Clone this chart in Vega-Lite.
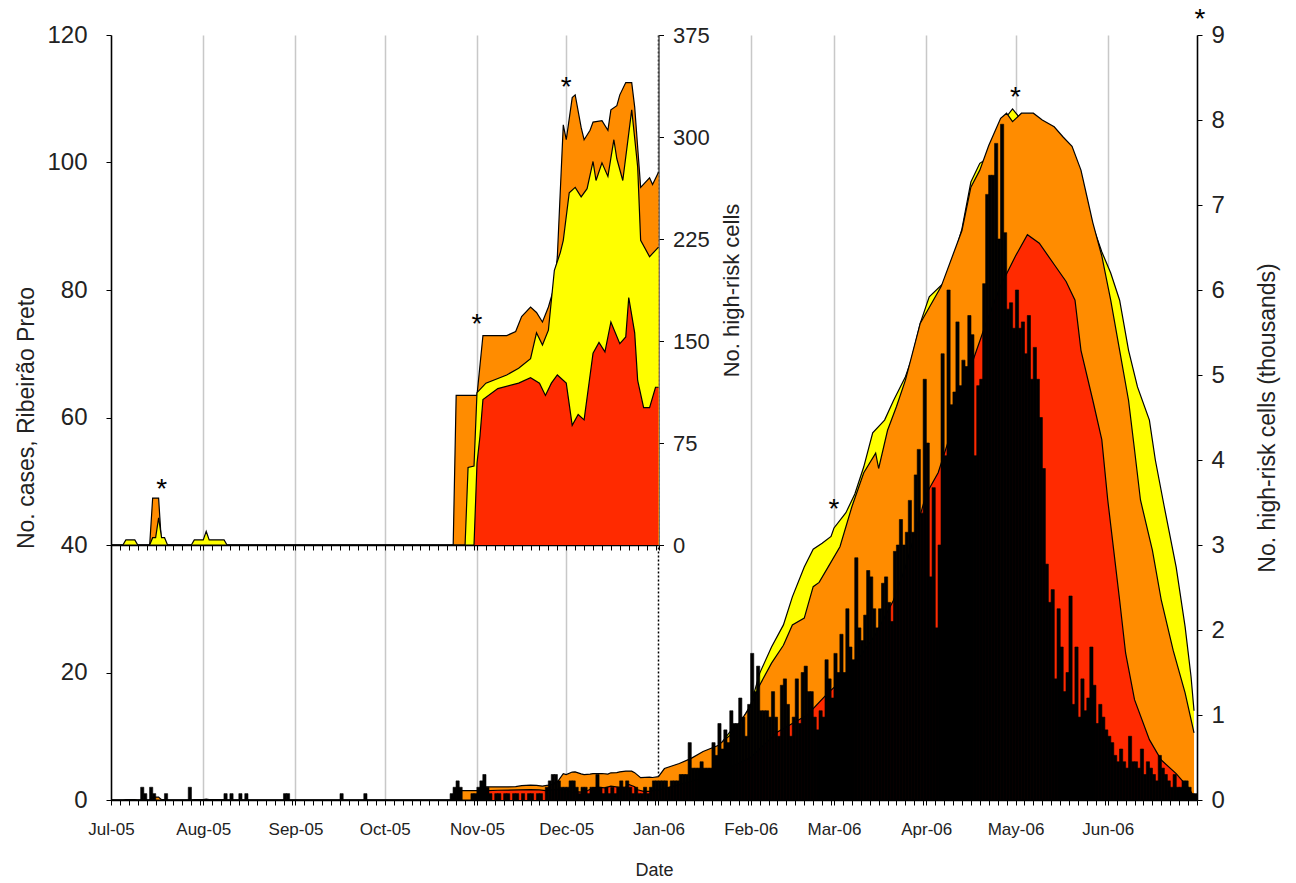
{
"$schema": "https://vega.github.io/schema/vega-lite/v6.json",
"width": 1086,
"height": 765,
"autosize": {"type": "none"},
"padding": {"left": 111, "top": 35, "right": 99, "bottom": 83},
"background": "white",
"config": {
  "font": "Liberation Sans",
  "view": {"stroke": null},
  "axis": {"domainColor": "black", "domainWidth": 1.5, "tickColor": "black", "tickWidth": 1, "tickSize": 5, "labelFont": "Liberation Sans", "labelFontSize": 24, "labelColor": "#222222", "titleFont": "Liberation Sans", "titleFontSize": 23, "titleFontWeight": "normal", "titleColor": "#222222", "grid": false}
},
"datasets": {
  "cases": [
    {"d":"2005-07-11","c":2},{"d":"2005-07-12","c":1},{"d":"2005-07-14","c":2},{"d":"2005-07-15","c":1},{"d":"2005-07-19","c":1},{"d":"2005-07-27","c":2},
    {"d":"2005-08-08","c":1},{"d":"2005-08-10","c":1},{"d":"2005-08-13","c":1},{"d":"2005-08-15","c":1},{"d":"2005-08-28","c":1},{"d":"2005-08-29","c":1},
    {"d":"2005-09-16","c":1},{"d":"2005-09-24","c":1},
    {"d":"2005-10-23","c":1},{"d":"2005-10-24","c":2},{"d":"2005-10-25","c":3},{"d":"2005-10-26","c":2},{"d":"2005-10-30","c":1},{"d":"2005-10-31","c":1},
    {"d":"2005-11-01","c":2},{"d":"2005-11-02","c":3},{"d":"2005-11-03","c":4},{"d":"2005-11-04","c":2},{"d":"2005-11-05","c":1},{"d":"2005-11-07","c":1},{"d":"2005-11-08","c":1},{"d":"2005-11-10","c":1},{"d":"2005-11-11","c":1},{"d":"2005-11-13","c":1},{"d":"2005-11-14","c":1},{"d":"2005-11-16","c":1},{"d":"2005-11-18","c":1},{"d":"2005-11-19","c":1},{"d":"2005-11-21","c":1},{"d":"2005-11-22","c":1},{"d":"2005-11-24","c":2},{"d":"2005-11-25","c":3},{"d":"2005-11-26","c":4},{"d":"2005-11-27","c":4},{"d":"2005-11-28","c":3},{"d":"2005-11-29","c":2},{"d":"2005-11-30","c":2},
    {"d":"2005-12-01","c":2},{"d":"2005-12-02","c":3},{"d":"2005-12-03","c":3},{"d":"2005-12-04","c":2},{"d":"2005-12-05","c":1},{"d":"2005-12-06","c":2},{"d":"2005-12-07","c":2},{"d":"2005-12-08","c":1},{"d":"2005-12-09","c":2},{"d":"2005-12-10","c":2},{"d":"2005-12-11","c":4},{"d":"2005-12-12","c":2},{"d":"2005-12-13","c":1},{"d":"2005-12-14","c":2},{"d":"2005-12-15","c":1},{"d":"2005-12-16","c":2},{"d":"2005-12-17","c":1},{"d":"2005-12-18","c":2},{"d":"2005-12-19","c":3},{"d":"2005-12-20","c":2},{"d":"2005-12-21","c":3},{"d":"2005-12-22","c":2},{"d":"2005-12-23","c":1},{"d":"2005-12-24","c":2},{"d":"2005-12-25","c":1},{"d":"2005-12-26","c":1},{"d":"2005-12-27","c":2},{"d":"2005-12-28","c":1},{"d":"2005-12-29","c":2},{"d":"2005-12-30","c":3},{"d":"2005-12-31","c":3},
    {"d":"2006-01-01","c":3},{"d":"2006-01-02","c":3},{"d":"2006-01-03","c":3},{"d":"2006-01-04","c":2},{"d":"2006-01-05","c":3},{"d":"2006-01-06","c":3},{"d":"2006-01-07","c":3},{"d":"2006-01-08","c":4},{"d":"2006-01-09","c":4},{"d":"2006-01-10","c":4},{"d":"2006-01-11","c":9},{"d":"2006-01-12","c":5},{"d":"2006-01-13","c":5},{"d":"2006-01-14","c":5},{"d":"2006-01-15","c":6},{"d":"2006-01-16","c":5},{"d":"2006-01-17","c":5},{"d":"2006-01-18","c":5},{"d":"2006-01-19","c":9},{"d":"2006-01-20","c":7},{"d":"2006-01-21","c":12},{"d":"2006-01-22","c":8},{"d":"2006-01-23","c":11},{"d":"2006-01-24","c":9},{"d":"2006-01-25","c":14},{"d":"2006-01-26","c":12},{"d":"2006-01-27","c":12},{"d":"2006-01-28","c":16},{"d":"2006-01-29","c":13},{"d":"2006-01-30","c":10},{"d":"2006-01-31","c":15},
    {"d":"2006-02-01","c":23},{"d":"2006-02-02","c":17},{"d":"2006-02-03","c":21},{"d":"2006-02-04","c":14},{"d":"2006-02-05","c":14},{"d":"2006-02-06","c":14},{"d":"2006-02-07","c":13},{"d":"2006-02-08","c":17},{"d":"2006-02-09","c":13},{"d":"2006-02-10","c":10},{"d":"2006-02-11","c":18},{"d":"2006-02-12","c":19},{"d":"2006-02-13","c":15},{"d":"2006-02-14","c":10},{"d":"2006-02-15","c":13},{"d":"2006-02-16","c":19},{"d":"2006-02-17","c":12},{"d":"2006-02-18","c":20},{"d":"2006-02-19","c":21},{"d":"2006-02-20","c":17},{"d":"2006-02-21","c":17},{"d":"2006-02-22","c":13},{"d":"2006-02-23","c":11},{"d":"2006-02-24","c":14},{"d":"2006-02-25","c":13},{"d":"2006-02-26","c":22},{"d":"2006-02-27","c":19},{"d":"2006-02-28","c":16},
    {"d":"2006-03-01","c":23},{"d":"2006-03-02","c":20},{"d":"2006-03-03","c":26},{"d":"2006-03-04","c":20},{"d":"2006-03-05","c":30},{"d":"2006-03-06","c":24},{"d":"2006-03-07","c":22},{"d":"2006-03-08","c":38},{"d":"2006-03-09","c":27},{"d":"2006-03-10","c":25},{"d":"2006-03-11","c":29},{"d":"2006-03-12","c":36},{"d":"2006-03-13","c":35},{"d":"2006-03-14","c":30},{"d":"2006-03-15","c":27},{"d":"2006-03-16","c":30},{"d":"2006-03-17","c":34},{"d":"2006-03-18","c":35},{"d":"2006-03-19","c":31},{"d":"2006-03-20","c":28},{"d":"2006-03-21","c":39},{"d":"2006-03-22","c":40},{"d":"2006-03-23","c":44},{"d":"2006-03-24","c":40},{"d":"2006-03-25","c":42},{"d":"2006-03-26","c":47},{"d":"2006-03-27","c":42},{"d":"2006-03-28","c":51},{"d":"2006-03-29","c":55},{"d":"2006-03-30","c":45},{"d":"2006-03-31","c":66},
    {"d":"2006-04-01","c":56},{"d":"2006-04-02","c":35},{"d":"2006-04-03","c":49},{"d":"2006-04-04","c":27},{"d":"2006-04-05","c":40},{"d":"2006-04-06","c":70},{"d":"2006-04-07","c":54},{"d":"2006-04-08","c":80},{"d":"2006-04-09","c":62},{"d":"2006-04-10","c":64},{"d":"2006-04-11","c":75},{"d":"2006-04-12","c":65},{"d":"2006-04-13","c":69},{"d":"2006-04-14","c":68},{"d":"2006-04-15","c":76},{"d":"2006-04-16","c":73},{"d":"2006-04-17","c":54},{"d":"2006-04-18","c":65},{"d":"2006-04-19","c":66},{"d":"2006-04-20","c":81},{"d":"2006-04-21","c":95},{"d":"2006-04-22","c":98},{"d":"2006-04-23","c":98},{"d":"2006-04-24","c":103},{"d":"2006-04-25","c":88},{"d":"2006-04-26","c":106},{"d":"2006-04-27","c":89},{"d":"2006-04-28","c":77},{"d":"2006-04-29","c":78},{"d":"2006-04-30","c":74},
    {"d":"2006-05-01","c":80},{"d":"2006-05-02","c":74},{"d":"2006-05-03","c":75},{"d":"2006-05-04","c":70},{"d":"2006-05-05","c":76},{"d":"2006-05-06","c":66},{"d":"2006-05-07","c":71},{"d":"2006-05-08","c":66},{"d":"2006-05-09","c":60},{"d":"2006-05-10","c":52},{"d":"2006-05-11","c":37},{"d":"2006-05-12","c":31},{"d":"2006-05-13","c":33},{"d":"2006-05-14","c":19},{"d":"2006-05-15","c":30},{"d":"2006-05-16","c":24},{"d":"2006-05-17","c":17},{"d":"2006-05-18","c":20},{"d":"2006-05-19","c":32},{"d":"2006-05-20","c":15},{"d":"2006-05-21","c":24},{"d":"2006-05-22","c":13},{"d":"2006-05-23","c":19},{"d":"2006-05-24","c":14},{"d":"2006-05-25","c":16},{"d":"2006-05-26","c":24},{"d":"2006-05-27","c":18},{"d":"2006-05-28","c":12},{"d":"2006-05-29","c":15},{"d":"2006-05-30","c":13},{"d":"2006-05-31","c":11},
    {"d":"2006-06-01","c":10},{"d":"2006-06-02","c":9},{"d":"2006-06-03","c":7},{"d":"2006-06-04","c":6},{"d":"2006-06-05","c":8},{"d":"2006-06-06","c":6},{"d":"2006-06-07","c":5},{"d":"2006-06-08","c":10},{"d":"2006-06-09","c":6},{"d":"2006-06-10","c":6},{"d":"2006-06-11","c":5},{"d":"2006-06-12","c":8},{"d":"2006-06-13","c":4},{"d":"2006-06-14","c":6},{"d":"2006-06-15","c":5},{"d":"2006-06-16","c":4},{"d":"2006-06-17","c":3},{"d":"2006-06-18","c":7},{"d":"2006-06-19","c":5},{"d":"2006-06-20","c":4},{"d":"2006-06-21","c":3},{"d":"2006-06-22","c":2},{"d":"2006-06-23","c":4},{"d":"2006-06-24","c":2},{"d":"2006-06-25","c":2},{"d":"2006-06-26","c":3},{"d":"2006-06-27","c":3},{"d":"2006-06-28","c":2},{"d":"2006-06-29","c":1},{"d":"2006-06-30","c":1}
  ],
  "risk": [
    {"d":"2005-07-01","s":"O","v":0},{"d":"2005-07-14","s":"O","v":0},{"d":"2005-07-15","s":"O","v":0.0345},{"d":"2005-07-17","s":"O","v":0.0345},{"d":"2005-07-18","s":"O","v":0},{"d":"2005-10-24","s":"O","v":0},{"d":"2005-10-25","s":"O","v":0.11},{"d":"2005-11-01","s":"O","v":0.11},{"d":"2005-11-03","s":"O","v":0.154},{"d":"2005-11-11","s":"O","v":0.154},{"d":"2005-11-14","s":"O","v":0.157},{"d":"2005-11-16","s":"O","v":0.168},{"d":"2005-11-19","s":"O","v":0.175},{"d":"2005-11-21","s":"O","v":0.171},{"d":"2005-11-23","s":"O","v":0.164},{"d":"2005-11-25","s":"O","v":0.175},{"d":"2005-11-27","s":"O","v":0.19},{"d":"2005-11-28","s":"O","v":0.212},{"d":"2005-11-30","s":"O","v":0.309},{"d":"2005-12-01","s":"O","v":0.298},{"d":"2005-12-03","s":"O","v":0.329},{"d":"2005-12-04","s":"O","v":0.331},{"d":"2005-12-06","s":"O","v":0.307},{"d":"2005-12-07","s":"O","v":0.298},{"d":"2005-12-09","s":"O","v":0.305},{"d":"2005-12-10","s":"O","v":0.311},{"d":"2005-12-13","s":"O","v":0.312},{"d":"2005-12-15","s":"O","v":0.305},{"d":"2005-12-16","s":"O","v":0.32},{"d":"2005-12-18","s":"O","v":0.323},{"d":"2005-12-19","s":"O","v":0.331},{"d":"2005-12-21","s":"O","v":0.34},{"d":"2005-12-23","s":"O","v":0.34},{"d":"2005-12-24","s":"O","v":0.322},{"d":"2005-12-26","s":"O","v":0.263},{"d":"2005-12-29","s":"O","v":0.27},{"d":"2005-12-30","s":"O","v":0.265},{"d":"2006-01-01","s":"O","v":0.274},
    {"d":"2006-01-03","s":"O","v":0.37},{"d":"2006-01-08","s":"O","v":0.43},{"d":"2006-01-12","s":"O","v":0.49},{"d":"2006-01-16","s":"O","v":0.57},{"d":"2006-01-21","s":"O","v":0.64},{"d":"2006-01-25","s":"O","v":0.76},{"d":"2006-01-28","s":"O","v":0.9},{"d":"2006-02-01","s":"O","v":1.1},{"d":"2006-02-04","s":"O","v":1.35},{"d":"2006-02-08","s":"O","v":1.61},{"d":"2006-02-12","s":"O","v":1.82},{"d":"2006-02-15","s":"O","v":2.06},{"d":"2006-02-19","s":"O","v":2.14},{"d":"2006-02-22","s":"O","v":2.51},{"d":"2006-02-24","s":"O","v":2.56},{"d":"2006-02-27","s":"O","v":2.74},{"d":"2006-03-03","s":"O","v":2.98},{"d":"2006-03-07","s":"O","v":3.45},{"d":"2006-03-11","s":"O","v":3.85},{"d":"2006-03-15","s":"O","v":4.08},{"d":"2006-03-16","s":"O","v":3.9},{"d":"2006-03-19","s":"O","v":4.35},{"d":"2006-03-22","s":"O","v":4.63},{"d":"2006-03-25","s":"O","v":4.94},{"d":"2006-03-30","s":"O","v":5.61},{"d":"2006-04-06","s":"O","v":6.04},{"d":"2006-04-13","s":"O","v":6.7},{"d":"2006-04-16","s":"O","v":7.21},{"d":"2006-04-19","s":"O","v":7.41},{"d":"2006-04-22","s":"O","v":7.7},{"d":"2006-04-26","s":"O","v":8.02},{"d":"2006-04-28","s":"O","v":8.08},{"d":"2006-04-30","s":"O","v":7.98},{"d":"2006-05-03","s":"O","v":8.08},{"d":"2006-05-07","s":"O","v":8.08},{"d":"2006-05-10","s":"O","v":8.0},{"d":"2006-05-14","s":"O","v":7.92},{"d":"2006-05-17","s":"O","v":7.8},{"d":"2006-05-20","s":"O","v":7.69},{"d":"2006-05-23","s":"O","v":7.41},{"d":"2006-05-25","s":"O","v":7.1},{"d":"2006-05-27","s":"O","v":6.79},{"d":"2006-05-30","s":"O","v":6.4},{"d":"2006-06-02","s":"O","v":5.88},{"d":"2006-06-05","s":"O","v":5.29},{"d":"2006-06-08","s":"O","v":4.7},{"d":"2006-06-10","s":"O","v":4.12},{"d":"2006-06-12","s":"O","v":3.53},{"d":"2006-06-16","s":"O","v":2.94},{"d":"2006-06-19","s":"O","v":2.35},{"d":"2006-06-23","s":"O","v":1.76},{"d":"2006-06-27","s":"O","v":1.26},{"d":"2006-06-30","s":"O","v":0.79},
    {"d":"2005-07-01","s":"Y","v":0},{"d":"2005-07-05","s":"Y","v":0},{"d":"2005-07-06","s":"Y","v":0.0037},{"d":"2005-07-09","s":"Y","v":0.0037},{"d":"2005-07-10","s":"Y","v":0},{"d":"2005-07-14","s":"Y","v":0},{"d":"2005-07-15","s":"Y","v":0.0054},{"d":"2005-07-16","s":"Y","v":0.0054},{"d":"2005-07-17","s":"Y","v":0.02},{"d":"2005-07-18","s":"Y","v":0.0054},{"d":"2005-07-19","s":"Y","v":0.0054},{"d":"2005-07-20","s":"Y","v":0},{"d":"2005-07-28","s":"Y","v":0},{"d":"2005-07-29","s":"Y","v":0.0037},{"d":"2005-08-01","s":"Y","v":0.0037},{"d":"2005-08-02","s":"Y","v":0.01},{"d":"2005-08-03","s":"Y","v":0.0037},{"d":"2005-08-08","s":"Y","v":0.0037},{"d":"2005-08-09","s":"Y","v":0},{"d":"2005-10-28","s":"Y","v":0},{"d":"2005-10-29","s":"Y","v":0.057},{"d":"2005-10-31","s":"Y","v":0.058},{"d":"2005-11-01","s":"Y","v":0.112},{"d":"2005-11-04","s":"Y","v":0.119},{"d":"2005-11-11","s":"Y","v":0.125},{"d":"2005-11-15","s":"Y","v":0.13},{"d":"2005-11-19","s":"Y","v":0.137},{"d":"2005-11-21","s":"Y","v":0.156},{"d":"2005-11-23","s":"Y","v":0.147},{"d":"2005-11-25","s":"Y","v":0.158},{"d":"2005-11-27","s":"Y","v":0.202},{"d":"2005-11-29","s":"Y","v":0.215},{"d":"2005-11-30","s":"Y","v":0.224},{"d":"2005-12-02","s":"Y","v":0.259},{"d":"2005-12-04","s":"Y","v":0.263},{"d":"2005-12-06","s":"Y","v":0.256},{"d":"2005-12-08","s":"Y","v":0.262},{"d":"2005-12-10","s":"Y","v":0.282},{"d":"2005-12-11","s":"Y","v":0.268},{"d":"2005-12-13","s":"Y","v":0.281},{"d":"2005-12-15","s":"Y","v":0.271},{"d":"2005-12-17","s":"Y","v":0.298},{"d":"2005-12-18","s":"Y","v":0.284},{"d":"2005-12-20","s":"Y","v":0.268},{"d":"2005-12-23","s":"Y","v":0.32},{"d":"2005-12-25","s":"Y","v":0.278},{"d":"2005-12-26","s":"Y","v":0.224},{"d":"2005-12-29","s":"Y","v":0.212},{"d":"2006-01-01","s":"Y","v":0.219},
    {"d":"2006-01-08","s":"Y","v":0.38},{"d":"2006-01-16","s":"Y","v":0.53},{"d":"2006-01-21","s":"Y","v":0.62},{"d":"2006-01-25","s":"Y","v":0.8},{"d":"2006-01-28","s":"Y","v":0.88},{"d":"2006-02-01","s":"Y","v":1.12},{"d":"2006-02-04","s":"Y","v":1.49},{"d":"2006-02-08","s":"Y","v":1.8},{"d":"2006-02-12","s":"Y","v":2.06},{"d":"2006-02-15","s":"Y","v":2.39},{"d":"2006-02-19","s":"Y","v":2.74},{"d":"2006-02-22","s":"Y","v":2.95},{"d":"2006-02-25","s":"Y","v":3.02},{"d":"2006-02-28","s":"Y","v":3.1},{"d":"2006-03-01","s":"Y","v":3.2},{"d":"2006-03-05","s":"Y","v":3.38},{"d":"2006-03-08","s":"Y","v":3.6},{"d":"2006-03-11","s":"Y","v":3.92},{"d":"2006-03-14","s":"Y","v":4.32},{"d":"2006-03-18","s":"Y","v":4.47},{"d":"2006-03-21","s":"Y","v":4.7},{"d":"2006-03-25","s":"Y","v":4.98},{"d":"2006-03-27","s":"Y","v":5.18},{"d":"2006-03-30","s":"Y","v":5.61},{"d":"2006-04-02","s":"Y","v":5.92},{"d":"2006-04-08","s":"Y","v":6.12},{"d":"2006-04-13","s":"Y","v":6.72},{"d":"2006-04-16","s":"Y","v":7.27},{"d":"2006-04-19","s":"Y","v":7.49},{"d":"2006-04-22","s":"Y","v":7.56},{"d":"2006-04-26","s":"Y","v":7.95},{"d":"2006-04-30","s":"Y","v":8.13},{"d":"2006-05-03","s":"Y","v":8.0},{"d":"2006-05-10","s":"Y","v":7.9},{"d":"2006-05-17","s":"Y","v":7.7},{"d":"2006-05-23","s":"Y","v":7.3},{"d":"2006-05-27","s":"Y","v":6.75},{"d":"2006-05-30","s":"Y","v":6.45},{"d":"2006-06-02","s":"Y","v":6.2},{"d":"2006-06-05","s":"Y","v":5.88},{"d":"2006-06-08","s":"Y","v":5.29},{"d":"2006-06-11","s":"Y","v":4.86},{"d":"2006-06-15","s":"Y","v":4.47},{"d":"2006-06-17","s":"Y","v":4.0},{"d":"2006-06-20","s":"Y","v":3.45},{"d":"2006-06-24","s":"Y","v":2.74},{"d":"2006-06-27","s":"Y","v":2.04},{"d":"2006-06-29","s":"Y","v":1.45},{"d":"2006-06-30","s":"Y","v":1.05},
    {"d":"2005-07-01","s":"R","v":0},{"d":"2005-10-31","s":"R","v":0},{"d":"2005-11-01","s":"R","v":0.06},{"d":"2005-11-02","s":"R","v":0.08},{"d":"2005-11-03","s":"R","v":0.107},{"d":"2005-11-08","s":"R","v":0.115},{"d":"2005-11-15","s":"R","v":0.119},{"d":"2005-11-19","s":"R","v":0.123},{"d":"2005-11-22","s":"R","v":0.119},{"d":"2005-11-24","s":"R","v":0.11},{"d":"2005-11-26","s":"R","v":0.119},{"d":"2005-11-28","s":"R","v":0.125},{"d":"2005-12-01","s":"R","v":0.119},{"d":"2005-12-03","s":"R","v":0.088},{"d":"2005-12-05","s":"R","v":0.096},{"d":"2005-12-07","s":"R","v":0.092},{"d":"2005-12-10","s":"R","v":0.141},{"d":"2005-12-12","s":"R","v":0.149},{"d":"2005-12-14","s":"R","v":0.142},{"d":"2005-12-16","s":"R","v":0.164},{"d":"2005-12-19","s":"R","v":0.148},{"d":"2005-12-21","s":"R","v":0.153},{"d":"2005-12-22","s":"R","v":0.182},{"d":"2005-12-24","s":"R","v":0.156},{"d":"2005-12-25","s":"R","v":0.121},{"d":"2005-12-27","s":"R","v":0.101},{"d":"2005-12-29","s":"R","v":0.101},{"d":"2005-12-31","s":"R","v":0.116},{"d":"2006-01-01","s":"R","v":0.116},
    {"d":"2006-01-10","s":"R","v":0.2},{"d":"2006-01-20","s":"R","v":0.3},{"d":"2006-02-01","s":"R","v":0.5},{"d":"2006-02-10","s":"R","v":0.8},{"d":"2006-02-20","s":"R","v":1.0},{"d":"2006-02-27","s":"R","v":1.26},{"d":"2006-03-05","s":"R","v":1.45},{"d":"2006-03-15","s":"R","v":1.95},{"d":"2006-03-21","s":"R","v":2.35},{"d":"2006-03-25","s":"R","v":2.74},{"d":"2006-04-01","s":"R","v":3.6},{"d":"2006-04-05","s":"R","v":3.85},{"d":"2006-04-11","s":"R","v":4.5},{"d":"2006-04-16","s":"R","v":5.1},{"d":"2006-04-21","s":"R","v":5.6},{"d":"2006-04-26","s":"R","v":6.05},{"d":"2006-05-01","s":"R","v":6.4},{"d":"2006-05-05","s":"R","v":6.65},{"d":"2006-05-09","s":"R","v":6.55},{"d":"2006-05-14","s":"R","v":6.3},{"d":"2006-05-18","s":"R","v":6.1},{"d":"2006-05-21","s":"R","v":5.88},{"d":"2006-05-23","s":"R","v":5.29},{"d":"2006-05-27","s":"R","v":4.7},{"d":"2006-05-30","s":"R","v":4.24},{"d":"2006-06-01","s":"R","v":3.53},{"d":"2006-06-03","s":"R","v":2.94},{"d":"2006-06-05","s":"R","v":2.35},{"d":"2006-06-07","s":"R","v":1.73},{"d":"2006-06-10","s":"R","v":1.18},{"d":"2006-06-15","s":"R","v":0.71},{"d":"2006-06-19","s":"R","v":0.47},{"d":"2006-06-24","s":"R","v":0.31},{"d":"2006-06-28","s":"R","v":0.15},{"d":"2006-06-30","s":"R","v":0.04}
  ],
  "stars": [
    {"d":"2006-03-01","v":3.51,"panel":"main"},{"d":"2006-05-01","v":8.35,"panel":"main"},{"d":"2006-07-02","v":9.27,"panel":"main"},
    {"d":"2005-07-18","v":0.0465,"panel":"inset"},{"d":"2005-11-01","v":0.168,"panel":"inset"},{"d":"2005-12-01","v":0.342,"panel":"inset"}
  ]
},
"layer": [
  {
    "data": {"name": "risk"},
    "transform": [{"filter": "datum.s == 'Y'"}],
    "mark": {"type": "area", "color": "#ffff00", "opacity": 1, "line": {"color": "black", "strokeWidth": 1.2}},
    "encoding": {
      "x": {"field": "d", "type": "temporal", "scale": {"type": "utc", "domain": [{"year": 2005, "month": 7, "date": 1, "utc": true}, {"year": 2006, "month": 7, "date": 1, "utc": true}]}, "axis": null},
      "y": {"field": "v", "type": "quantitative", "scale": {"domain": [0, 9], "nice": false},
            "axis": {"orient": "right", "values": [0,1,2,3,4,5,6,7,8,9], "title": "No. high-risk cells (thousands)", "titleAngle": 270, "titleBaseline": "top", "labelPadding": 9, "titlePadding": 32}}
    }
  },
  {
    "data": {"name": "risk"},
    "transform": [{"filter": "datum.s == 'O'"}],
    "mark": {"type": "area", "color": "#ff8c00", "opacity": 1, "line": {"color": "black", "strokeWidth": 1.2}},
    "encoding": {
      "x": {"field": "d", "type": "temporal", "scale": {"type": "utc", "domain": [{"year": 2005, "month": 7, "date": 1, "utc": true}, {"year": 2006, "month": 7, "date": 1, "utc": true}]}, "axis": null},
      "y": {"field": "v", "type": "quantitative", "scale": {"domain": [0, 9], "nice": false}, "axis": null}
    }
  },
  {
    "data": {"name": "risk"},
    "transform": [{"filter": "datum.s == 'R'"}],
    "mark": {"type": "area", "color": "#ff2a00", "opacity": 1, "line": {"color": "black", "strokeWidth": 1.2}},
    "encoding": {
      "x": {"field": "d", "type": "temporal", "scale": {"type": "utc", "domain": [{"year": 2005, "month": 7, "date": 1, "utc": true}, {"year": 2006, "month": 7, "date": 1, "utc": true}]}, "axis": null},
      "y": {"field": "v", "type": "quantitative", "scale": {"domain": [0, 9], "nice": false}, "axis": null}
    }
  },
  {
    "data": {"name": "stars"},
    "transform": [{"filter": "datum.panel == 'main'"}],
    "mark": {"type": "text", "text": "*", "fontSize": 28, "baseline": "alphabetic", "dy": 16, "color": "black"},
    "encoding": {
      "x": {"field": "d", "type": "temporal", "scale": {"type": "utc", "domain": [{"year": 2005, "month": 7, "date": 1, "utc": true}, {"year": 2006, "month": 7, "date": 1, "utc": true}]}, "axis": null},
      "y": {"field": "v", "type": "quantitative", "scale": {"domain": [0, 9], "nice": false}, "axis": null}
    }
  },
  {
    "data": {"name": "cases"},
    "mark": {"type": "bar", "color": "black", "stroke": "black", "strokeWidth": 0.6, "width": 3.2, "xOffset": 1.49},
    "encoding": {
      "x": {"field": "d", "type": "temporal",
            "scale": {"type": "utc", "padding": 0, "domain": [{"year": 2005, "month": 7, "date": 1, "utc": true}, {"year": 2006, "month": 7, "date": 1, "utc": true}]},
            "axis": {
              "title": "Date", "titleFontSize": 18, "titlePadding": 24,
              "tickCount": {"interval": "day", "step": 3},
              "labelExpr": "(utcdate(datum.value) == 1 && (utcyear(datum.value) == 2005 || utcmonth(datum.value) < 6)) ? utcFormat(datum.value, '%b-%y') : ''",
              "labelOverlap": false, "labelFlush": false, "labelFontSize": 17, "labelPadding": 16,
              "grid": true,
              "gridColor": {"condition": {"test": "utcmonth(datum.value) == 0 && utcdate(datum.value) == 1", "value": "black"}, "value": "#c8c8c8"},
              "gridOpacity": {"condition": {"test": "utcdate(datum.value) == 1", "value": 1}, "value": 0},
              "gridDash": {"condition": {"test": "utcmonth(datum.value) == 0 && utcdate(datum.value) == 1", "value": [2, 2]}, "value": [1, 0]},
              "gridWidth": 1.5
            }},
      "y": {"field": "c", "type": "quantitative", "scale": {"domain": [0, 120], "nice": false},
            "axis": {"orient": "left", "values": [0,20,40,60,80,100,120], "title": "No. cases, Ribeirão Preto", "labelPadding": 19, "titlePadding": 8}}
    }
  },
  {
    "data": {"name": "risk"},
    "transform": [{"filter": "datum.s == 'O'"}, {"filter": {"field": "d", "lte": {"year": 2006, "month": 1, "date": 1, "utc": true}}}],
    "mark": {"type": "area", "color": "#ff8c00", "opacity": 1, "line": {"color": "black", "strokeWidth": 1.2}},
    "encoding": {
      "x": {"field": "d", "type": "temporal",
            "scale": {"type": "utc", "domain": [{"year": 2005, "month": 7, "date": 1, "utc": true}, {"year": 2006, "month": 1, "date": 1, "utc": true}], "range": [0, 547.5]},
            "axis": {"orient": "bottom", "offset": -255, "labels": false, "title": null, "tickCount": {"interval": "day", "step": 3}, "grid": false}},
      "y": {"field": "v", "type": "quantitative", "scale": {"domain": [0, 0.375], "range": [510, 0], "nice": false},
            "axis": {"orient": "right", "offset": -538.5, "values": [0, 0.075, 0.15, 0.225, 0.3, 0.375], "labelExpr": "format(datum.value * 1000, 'd')", "labelFontSize": 22, "title": "No. high-risk cells", "titleFontSize": 22, "titleAngle": 270, "titleBaseline": "top", "domainColor": "#555555", "labelPadding": 9, "titlePadding": 12}}
    }
  },
  {
    "data": {"name": "risk"},
    "transform": [{"filter": "datum.s == 'Y'"}, {"filter": {"field": "d", "lte": {"year": 2006, "month": 1, "date": 1, "utc": true}}}],
    "mark": {"type": "area", "color": "#ffff00", "opacity": 1, "line": {"color": "black", "strokeWidth": 1.2}},
    "encoding": {
      "x": {"field": "d", "type": "temporal", "scale": {"type": "utc", "domain": [{"year": 2005, "month": 7, "date": 1, "utc": true}, {"year": 2006, "month": 1, "date": 1, "utc": true}], "range": [0, 547.5]}, "axis": null},
      "y": {"field": "v", "type": "quantitative", "scale": {"domain": [0, 0.375], "range": [510, 0], "nice": false}, "axis": null}
    }
  },
  {
    "data": {"name": "risk"},
    "transform": [{"filter": "datum.s == 'R'"}, {"filter": {"field": "d", "lte": {"year": 2006, "month": 1, "date": 1, "utc": true}}}],
    "mark": {"type": "area", "color": "#ff2a00", "opacity": 1, "line": {"color": "black", "strokeWidth": 1.2}},
    "encoding": {
      "x": {"field": "d", "type": "temporal", "scale": {"type": "utc", "domain": [{"year": 2005, "month": 7, "date": 1, "utc": true}, {"year": 2006, "month": 1, "date": 1, "utc": true}], "range": [0, 547.5]}, "axis": null},
      "y": {"field": "v", "type": "quantitative", "scale": {"domain": [0, 0.375], "range": [510, 0], "nice": false}, "axis": null}
    }
  },
  {
    "data": {"name": "stars"},
    "transform": [{"filter": "datum.panel == 'inset'"}],
    "mark": {"type": "text", "text": "*", "fontSize": 28, "baseline": "alphabetic", "dy": 16, "color": "black"},
    "encoding": {
      "x": {"field": "d", "type": "temporal", "scale": {"type": "utc", "domain": [{"year": 2005, "month": 7, "date": 1, "utc": true}, {"year": 2006, "month": 1, "date": 1, "utc": true}], "range": [0, 547.5]}, "axis": null},
      "y": {"field": "v", "type": "quantitative", "scale": {"domain": [0, 0.375], "range": [510, 0], "nice": false}, "axis": null}
    }
  }
],
"resolve": {"scale": {"x": "independent", "y": "independent"}}
}
